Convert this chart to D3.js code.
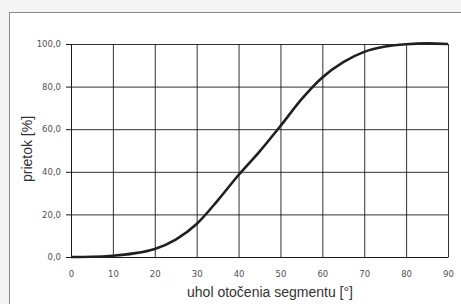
<!DOCTYPE html>
<html lang="en">
<head>
    <meta charset="UTF-8" />
    <title>prietok</title>
    <script src="https://d3js.org/d3.v7.min.js"></script>
    <style>
        body { margin: 0; background: #f4f4f4; }
        svg text { font-family: "Liberation Sans", Arial, sans-serif; }
        .tick text { fill: #505050; font-size: 8.5px; font-family: "DejaVu Sans", sans-serif; }
    </style>
</head>
<body>
    <svg id="chart" width="461" height="304"></svg>
    <script>
        // uhol otočenia segmentu [°] vs prietok [%]
        const angles = [0, 5, 10, 15, 20, 25, 30, 35, 40, 45, 50, 55, 60, 65, 70, 75, 80, 85, 90];
        const flow = [0, 0.1, 0.6, 1.7, 3.8, 8.2, 15.5, 26.5, 38.5, 49.5, 61.5, 74, 84.3, 91.5, 96.3, 98.8, 99.9, 100.3, 100];
        const xTicks = [0, 10, 20, 30, 40, 50, 60, 70, 80, 90];
        const yTicks = [0, 20, 40, 60, 80, 100];

        const svg = d3.select("svg#chart");
        const margins = { top: 44, right: 13, bottom: 47, left: 71 };
        const chartWidth = 461 - margins.left - margins.right;
        const chartHeight = 304 - margins.top - margins.bottom;

        // frame
        svg.append("rect")
            .attr("x", 9.5).attr("y", 12.5)
            .attr("width", 470).attr("height", 320)
            .attr("fill", "white")
            .attr("stroke", "#8c8c8c");

        const chartArea = svg.append("g")
            .attr("transform", `translate(${margins.left},${margins.top})`);

        const xScale = d3.scaleLinear().domain([0, 90]).range([0, chartWidth]);
        const yScale = d3.scaleLinear().domain([0, 100]).range([chartHeight, 0]);

        // gridlines
        chartArea.append("g")
            .attr("class", "x gridlines")
            .attr("transform", `translate(0,${chartHeight})`)
            .call(d3.axisBottom(xScale).tickValues(xTicks).tickFormat("").tickSize(-chartHeight))
            .call(g => g.select(".domain").remove())
            .call(g => g.selectAll("line").attr("stroke", "#1a1a1a").attr("stroke-width", 0.9));

        chartArea.append("g")
            .attr("class", "y gridlines")
            .call(d3.axisLeft(yScale).tickValues(yTicks).tickFormat("").tickSize(-chartWidth))
            .call(g => g.select(".domain").remove())
            .call(g => g.selectAll("line").attr("stroke", "#1a1a1a").attr("stroke-width", 0.9));

        // y axis
        chartArea.append("g")
            .attr("class", "y axis")
            .call(d3.axisLeft(yScale).tickValues(yTicks).tickSize(5).tickPadding(5)
                .tickFormat(d => d3.format(".1f")(d).replace(".", ",")))
            .call(g => g.select(".domain").attr("stroke", "#1a1a1a"))
            .call(g => g.selectAll(".tick line").attr("stroke", "#1a1a1a"));

        // x axis
        chartArea.append("g")
            .attr("class", "x axis")
            .attr("transform", `translate(0,${chartHeight})`)
            .call(d3.axisBottom(xScale).tickValues(xTicks).tickSize(0).tickPadding(14))
            .call(g => g.select(".domain").attr("stroke", "#1a1a1a"));

        // curve
        const line = d3.line()
            .x((d, i) => xScale(angles[i]))
            .y(d => yScale(d))
            .curve(d3.curveMonotoneX);

        chartArea.append("path")
            .datum(flow)
            .attr("fill", "none")
            .attr("stroke", "#231f20")
            .attr("stroke-width", 2.6)
            .attr("d", line);

        // axis titles
        svg.append("text")
            .attr("x", 270)
            .attr("y", 297)
            .attr("text-anchor", "middle")
            .attr("font-size", 14)
            .attr("fill", "#333")
            .text("uhol otočenia segmentu [°]");

        svg.append("text")
            .attr("transform", `translate(32,149) rotate(-90)`)
            .attr("text-anchor", "middle")
            .attr("font-size", 14)
            .attr("fill", "#333")
            .text("prietok [%]");
    </script>
</body>
</html>
